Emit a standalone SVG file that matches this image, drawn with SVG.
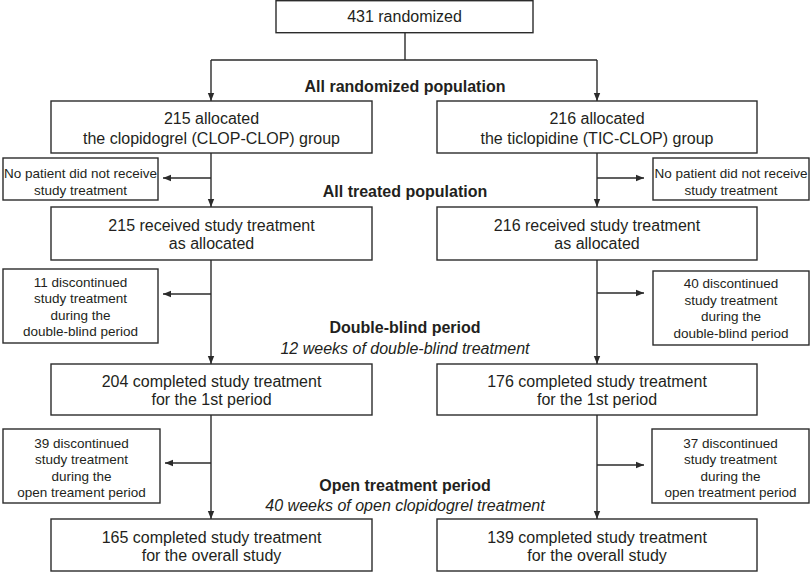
<svg xmlns="http://www.w3.org/2000/svg" width="812" height="572" viewBox="0 0 812 572">
<style>
.box{fill:#fff;stroke:#2b2b2b;stroke-width:1.4}
.t{font-family:"Liberation Sans",Arial,sans-serif;font-size:16px;fill:#231f20;text-anchor:middle}
.s{font-family:"Liberation Sans",Arial,sans-serif;font-size:13.5px;fill:#231f20;text-anchor:middle}
.b{font-weight:bold}
.i{font-style:italic}
.c{fill:none;stroke:#2b2b2b;stroke-width:1.4}
</style>
<defs>
<marker id="ah" markerUnits="userSpaceOnUse" markerWidth="8" markerHeight="8" viewBox="0 0 8 8" refX="8" refY="4" orient="auto">
<path d="M0,0.8 L8,4 L0,7.2 Z" fill="#2b2b2b"/>
</marker>
</defs>
<rect width="812" height="572" fill="#fff"/>
<g id="connectors">
<path class="c" d="M405,33 V60 M211,60 H597"/>
<path class="c" d="M211,60 V101" marker-end="url(#ah)"/>
<path class="c" d="M597,60 V101" marker-end="url(#ah)"/>
<path class="c" d="M211,153 V207" marker-end="url(#ah)"/>
<path class="c" d="M211,178 H163" marker-end="url(#ah)"/>
<path class="c" d="M597,153 V207" marker-end="url(#ah)"/>
<path class="c" d="M597,178 H644" marker-end="url(#ah)"/>
<path class="c" d="M211,260 V364" marker-end="url(#ah)"/>
<path class="c" d="M211,294 H163" marker-end="url(#ah)"/>
<path class="c" d="M597,260 V364" marker-end="url(#ah)"/>
<path class="c" d="M597,293 H644" marker-end="url(#ah)"/>
<path class="c" d="M211,415 V519" marker-end="url(#ah)"/>
<path class="c" d="M211,463 H165" marker-end="url(#ah)"/>
<path class="c" d="M597,415 V519" marker-end="url(#ah)"/>
<path class="c" d="M597,465 H644" marker-end="url(#ah)"/>
</g>
<g id="randomized">
<rect class="box" x="276" y="0.7" width="257" height="32"/>
<text class="t" x="404.5" y="22">431 randomized</text>
</g>
<g id="label-randomized"><text class="t b" x="405" y="91.5">All randomized population</text></g>
<g id="clop-alloc">
<rect class="box" x="51" y="101" width="321" height="52"/>
<text class="t" x="211.5" y="123.5">215 allocated</text>
<text class="t" x="211.5" y="143.5">the clopidogrel (CLOP-CLOP) group</text>
</g>
<g id="tic-alloc">
<rect class="box" x="437" y="101" width="320" height="52"/>
<text class="t" x="597" y="123.5">216 allocated</text>
<text class="t" x="597" y="143.5">the ticlopidine (TIC-CLOP) group</text>
</g>
<g id="clop-notreat">
<rect class="box" x="3" y="158" width="155" height="42"/>
<text class="s" x="80.5" y="177.5">No patient did not receive</text>
<text class="s" x="80.5" y="194.5">study treatment</text>
</g>
<g id="tic-notreat">
<rect class="box" x="653" y="158" width="156" height="42"/>
<text class="s" x="731" y="177.5">No patient did not receive</text>
<text class="s" x="731" y="194.5">study treatment</text>
</g>
<g id="label-treated"><text class="t b" x="405" y="196.5">All treated population</text></g>
<g id="clop-received">
<rect class="box" x="51" y="207" width="321" height="53"/>
<text class="t" x="211.5" y="230.5">215 received study treatment</text>
<text class="t" x="211.5" y="249">as allocated</text>
</g>
<g id="tic-received">
<rect class="box" x="437" y="207" width="320" height="53"/>
<text class="t" x="597" y="230.5">216 received study treatment</text>
<text class="t" x="597" y="249">as allocated</text>
</g>
<g id="clop-disc1">
<rect class="box" x="3" y="269" width="155" height="74"/>
<text class="s" x="80.5" y="286.7">11 discontinued</text>
<text class="s" x="80.5" y="303">study treatment</text>
<text class="s" x="80.5" y="319.5">during the</text>
<text class="s" x="80.5" y="336">double-blind period</text>
</g>
<g id="tic-disc1">
<rect class="box" x="653" y="271" width="156" height="74"/>
<text class="s" x="731" y="288">40 discontinued</text>
<text class="s" x="731" y="304.5">study treatment</text>
<text class="s" x="731" y="321">during the</text>
<text class="s" x="731" y="337.5">double-blind period</text>
</g>
<g id="label-db">
<text class="t b" x="405" y="332.5">Double-blind period</text>
<text class="t i" x="405" y="353.5">12 weeks of double-blind treatment</text>
</g>
<g id="clop-comp1">
<rect class="box" x="51" y="364" width="321" height="51"/>
<text class="t" x="211.5" y="386.5">204 completed study treatment</text>
<text class="t" x="211.5" y="405">for the 1st period</text>
</g>
<g id="tic-comp1">
<rect class="box" x="437" y="364" width="320" height="51"/>
<text class="t" x="597" y="386.5">176 completed study treatment</text>
<text class="t" x="597" y="405">for the 1st period</text>
</g>
<g id="clop-disc2">
<rect class="box" x="3" y="429" width="157" height="74"/>
<text class="s" x="81.5" y="447.7">39 discontinued</text>
<text class="s" x="81.5" y="464">study treatment</text>
<text class="s" x="81.5" y="480.5">during the</text>
<text class="s" x="81.5" y="497">open treament period</text>
</g>
<g id="tic-disc2">
<rect class="box" x="652" y="429" width="157" height="74"/>
<text class="s" x="730.5" y="447.7">37 discontinued</text>
<text class="s" x="730.5" y="464">study treatment</text>
<text class="s" x="730.5" y="480.5">during the</text>
<text class="s" x="730.5" y="497">open treatment period</text>
</g>
<g id="label-open">
<text class="t b" x="405" y="490.5">Open treatment period</text>
<text class="t i" x="405" y="510.5">40 weeks of open clopidogrel treatment</text>
</g>
<g id="clop-overall">
<rect class="box" x="51" y="519" width="321" height="52"/>
<text class="t" x="211.5" y="542.5">165 completed study treatment</text>
<text class="t" x="211.5" y="561">for the overall study</text>
</g>
<g id="tic-overall">
<rect class="box" x="437" y="519" width="320" height="52"/>
<text class="t" x="597" y="542.5">139 completed study treatment</text>
<text class="t" x="597" y="561">for the overall study</text>
</g>
</svg>
